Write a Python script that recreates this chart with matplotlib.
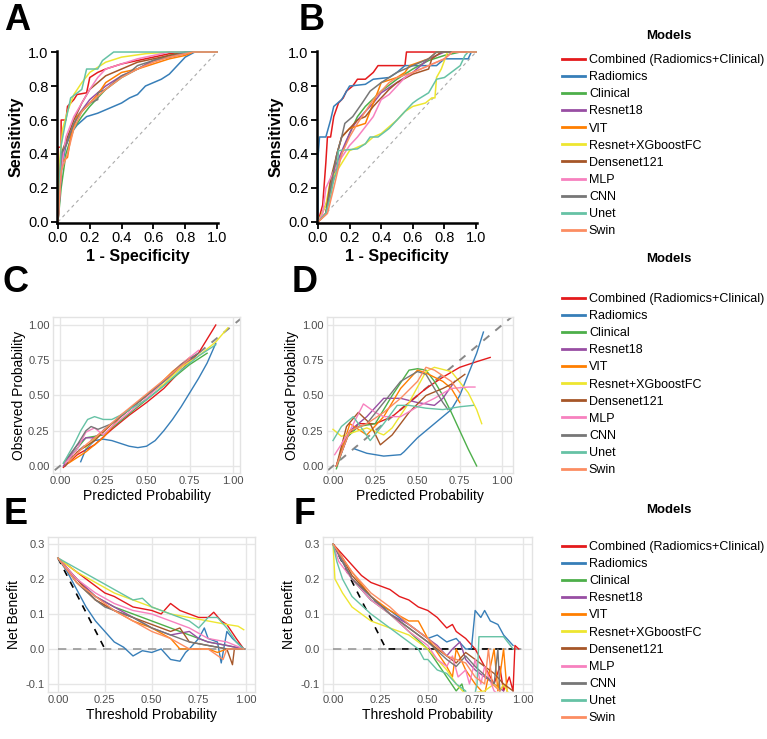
import numpy as np
import matplotlib
matplotlib.use("Agg")
import matplotlib.pyplot as plt

plt.rcParams['font.family'] = ['Liberation Sans', 'DejaVu Sans']

# models and colours
models = ["Combined (Radiomics+Clinical)", "Radiomics", "Clinical", "Resnet18", "VIT",
          "Resnet+XGboostFC", "Densenet121", "MLP", "CNN", "Unet", "Swin"]
colors = ["#E41A1C", "#377EB8", "#4DAF4A", "#984EA3", "#FF7F00",
          "#EEE630", "#A65628", "#F781BF", "#777777", "#66C2A5", "#FC8D62"]

# ---- A: ROC, training set (fpr, tpr) ----
roc_train = {
    "Combined (Radiomics+Clinical)": [(0, 0), (0, .44), (.02, .44), (.02, .6), (.05, .6), (.06, .68), (.1, .72), (.12, .75), (.18, .76), (.2, .85), (.25, .88), (.3, .9), (.4, .93), (.5, .95), (.6, .97), (.7, .99), (.8, 1), (1, 1)],
    "Radiomics": [(0, 0), (.02, .3), (.05, .45), (.08, .52), (.12, .57), (.18, .62), (.25, .64), (.3, .66), (.35, .68), (.4, .7), (.45, .73), (.5, .75), (.55, .8), (.6, .82), (.65, .84), (.7, .87), (.75, .92), (.8, .97), (.86, 1), (1, 1)],
    "Clinical": [(0, 0), (.02, .2), (.05, .4), (.1, .55), (.15, .62), (.2, .68), (.3, .78), (.4, .85), (.5, .9), (.6, .95), (.7, .98), (.8, 1), (1, 1)],
    "Resnet18": [(0, 0), (.03, .4), (.07, .5), (.12, .62), (.2, .72), (.3, .8), (.4, .86), (.5, .9), (.6, .95), (.7, .97), (.85, 1), (1, 1)],
    "VIT": [(0, 0), (.02, .35), (.06, .38), (.08, .5), (.12, .62), (.18, .68), (.25, .75), (.3, .82), (.35, .85), (.4, .88), (.5, .9), (.6, .93), (.7, .96), (.8, .98), (.85, 1), (1, 1)],
    "Resnet+XGboostFC": [(0, 0), (.01, .35), (.03, .55), (.06, .65), (.1, .75), (.15, .82), (.2, .88), (.3, .94), (.4, .97), (.55, .99), (.7, 1), (1, 1)],
    "Densenet121": [(0, 0), (.02, .4), (.06, .5), (.1, .6), (.15, .7), (.2, .78), (.25, .82), (.3, .86), (.4, .9), (.5, .94), (.6, .96), (.7, .98), (.8, 1), (1, 1)],
    "MLP": [(0, 0), (.02, .3), (.05, .5), (.1, .62), (.15, .7), (.2, .78), (.25, .85), (.3, .9), (.4, .93), (.5, .96), (.6, .98), (.7, 1), (1, 1)],
    "CNN": [(0, 0), (.02, .4), (.05, .45), (.1, .58), (.15, .65), (.2, .7), (.25, .72), (.25, .76), (.3, .78), (.35, .82), (.4, .86), (.45, .88), (.5, .92), (.6, .95), (.7, .97), (.8, 1), (1, 1)],
    "Unet": [(0, 0), (.02, .45), (.05, .6), (.08, .73), (.15, .78), (.18, .9), (.25, .9), (.28, .95), (.35, 1), (1, 1)],
    "Swin": [(0, 0), (.02, .3), (.06, .4), (.1, .55), (.15, .65), (.2, .7), (.3, .78), (.4, .85), (.5, .9), (.6, .94), (.7, .97), (.8, .99), (.85, 1), (1, 1)],
}

# ---- B: ROC, test set ----
roc_test = {
    "Combined (Radiomics+Clinical)": [(0, 0), (.03, .1), (.05, .35), (.06, .5), (.08, .5), (.1, .62), (.13, .7), (.16, .73), (.18, .77), (.22, .8), (.25, .84), (.3, .84), (.35, .88), (.38, .92), (.55, .92), (.56, 1), (1, 1)],
    "Radiomics": [(0, 0), (0, .38), (.01, .5), (.05, .5), (.08, .6), (.1, .68), (.15, .72), (.2, .8), (.3, .81), (.35, .84), (.45, .85), (.5, .88), (.55, .92), (.75, .92), (.8, .96), (.95, .96), (.97, 1), (1, 1)],
    "Clinical": [(0, 0), (.05, .1), (.1, .25), (.15, .4), (.2, .52), (.25, .62), (.3, .68), (.4, .77), (.5, .84), (.6, .9), (.7, .95), (.8, .98), (.9, 1), (1, 1)],
    "Resnet18": [(0, 0), (.05, .05), (.08, .2), (.12, .35), (.18, .48), (.22, .56), (.25, .6), (.3, .65), (.35, .7), (.4, .76), (.5, .82), (.6, .88), (.65, .92), (.7, .96), (.8, 1), (1, 1)],
    "VIT": [(0, 0), (.05, .05), (.08, .2), (.12, .4), (.15, .5), (.2, .55), (.3, .58), (.35, .7), (.38, .77), (.4, .82), (.5, .85), (.55, .88), (.58, .92), (.7, .96), (.75, 1), (1, 1)],
    "Resnet+XGboostFC": [(0, 0), (.05, .1), (.08, .25), (.12, .3), (.2, .42), (.3, .46), (.35, .5), (.4, .52), (.45, .56), (.5, .6), (.55, .65), (.6, .68), (.68, .7), (.72, .73), (.74, .73), (.75, .85), (.78, .9), (.8, .95), (.82, 1), (1, 1)],
    "Densenet121": [(0, 0), (.05, .05), (.08, .25), (.12, .4), (.15, .5), (.2, .55), (.25, .6), (.3, .62), (.35, .68), (.4, .73), (.45, .78), (.5, .82), (.6, .87), (.7, .9), (.72, .96), (.78, 1), (1, 1)],
    "MLP": [(0, 0), (.03, .05), (.05, .2), (.1, .3), (.15, .38), (.2, .45), (.25, .5), (.3, .56), (.35, .62), (.4, .72), (.45, .75), (.5, .8), (.55, .85), (.6, .88), (.7, .92), (.8, .96), (.85, 1), (1, 1)],
    "CNN": [(0, 0), (.05, .05), (.08, .2), (.12, .4), (.15, .5), (.17, .58), (.22, .62), (.28, .7), (.33, .77), (.4, .82), (.5, .88), (.6, .92), (.7, .96), (.75, 1), (1, 1)],
    "Unet": [(0, 0), (.05, .05), (.08, .15), (.1, .25), (.12, .3), (.13, .42), (.25, .43), (.3, .46), (.33, .5), (.38, .5), (.45, .55), (.5, .6), (.55, .65), (.6, .7), (.63, .72), (.7, .76), (.75, .84), (.8, .85), (.9, .92), (.93, .98), (.95, 1), (1, 1)],
    "Swin": [(0, 0), (.06, .05), (.1, .2), (.15, .4), (.2, .5), (.25, .58), (.3, .65), (.35, .72), (.4, .77), (.45, .82), (.5, .85), (.6, .88), (.7, .92), (.8, .96), (.85, 1), (1, 1)],
}

# ---- C: calibration, training set (predicted, observed) ----
cal_train = {
    "Combined (Radiomics+Clinical)": [(.02, -.01), (.1, .08), (.2, .15), (.3, .26), (.4, .36), (.5, .45), (.6, .55), (.7, .68), (.8, .8), (.9, 1.0)],
    "Radiomics": [(.12, .03), (.15, .12), (.2, .18), (.25, .19), (.3, .18), (.35, .16), (.4, .14), (.45, .13), (.5, .14), (.55, .18), (.6, .25), (.65, .33), (.7, .42), (.75, .52), (.8, .62), (.85, .73), (.9, .87)],
    "Clinical": [(.05, .05), (.15, .2), (.25, .22), (.35, .32), (.45, .42), (.55, .52), (.65, .62), (.75, .72), (.85, .8)],
    "Resnet18": [(.02, 0), (.1, .15), (.15, .2), (.2, .2), (.3, .3), (.4, .4), (.5, .5), (.6, .6), (.7, .7), (.78, .78)],
    "VIT": [(.05, .02), (.15, .1), (.25, .2), (.35, .35), (.45, .45), (.55, .55), (.65, .67), (.75, .77)],
    "Resnet+XGboostFC": [(.15, .13), (.3, .3), (.4, .4), (.5, .5), (.6, .58), (.7, .7), (.8, .78), (.9, .88), (.97, .98)],
    "Densenet121": [(.03, 0), (.1, .1), (.2, .18), (.3, .3), (.4, .4), (.5, .5), (.6, .6), (.7, .72), (.8, .8)],
    "MLP": [(.03, .02), (.1, .12), (.15, .24), (.2, .27), (.25, .22), (.3, .28), (.4, .38), (.5, .48), (.6, .6), (.7, .72), (.8, .82)],
    "CNN": [(.02, .02), (.1, .15), (.15, .25), (.18, .28), (.22, .26), (.3, .3), (.4, .4), (.5, .5), (.6, .6), (.7, .72), (.8, .8)],
    "Unet": [(.02, .02), (.08, .15), (.12, .25), (.16, .33), (.2, .35), (.25, .33), (.3, .33), (.35, .36), (.4, .4), (.5, .47), (.6, .57), (.7, .68), (.8, .78), (.85, .82), (.9, .86)],
    "Swin": [(.05, .03), (.15, .15), (.25, .25), (.35, .36), (.45, .46), (.55, .56), (.65, .66), (.75, .76)],
}

# ---- D: calibration, test set ----
cal_test = {
    "Combined (Radiomics+Clinical)": [(.02, 0), (.08, .2), (.15, .3), (.25, .3), (.35, .35), (.45, .45), (.55, .55), (.65, .63), (.75, .7), (.85, .74), (.93, .77)],
    "Radiomics": [(.13, .12), (.2, .09), (.3, .07), (.4, .08), (.42, .1), (.5, .2), (.6, .3), (.7, .4), (.75, .5), (.8, .65), (.85, .8), (.89, .95)],
    "Clinical": [(.02, -.02), (.08, .2), (.15, .28), (.25, .3), (.35, .5), (.45, .68), (.5, .69), (.55, .68), (.6, .6), (.65, .5), (.7, .38), (.75, .25), (.8, .12), (.85, 0)],
    "Resnet18": [(.02, 0), (.1, .25), (.2, .35), (.3, .48), (.4, .48), (.5, .45), (.6, .43), (.65, .48), (.72, .6)],
    "VIT": [(.02, 0), (.1, .3), (.2, .22), (.3, .35), (.4, .55), (.5, .68), (.55, .66), (.65, .6), (.7, .55), (.75, .45)],
    "Resnet+XGboostFC": [(0, .26), (.05, .21), (.1, .23), (.2, .27), (.3, .22), (.35, .27), (.45, .45), (.55, .67), (.6, .7), (.7, .67), (.8, .52), (.85, .4), (.88, .3)],
    "Densenet121": [(.02, 0), (.08, .28), (.15, .38), (.22, .3), (.28, .15), (.35, .22), (.45, .38), (.55, .5), (.65, .55), (.7, .58), (.78, .65)],
    "MLP": [(.01, .08), (.1, .25), (.18, .44), (.25, .38), (.3, .35), (.4, .35), (.5, .42), (.6, .48), (.7, .55), (.8, .56), (.84, .56)],
    "CNN": [(.02, 0), (.1, .25), (.2, .3), (.3, .45), (.4, .6), (.5, .67), (.55, .65), (.6, .55), (.65, .45), (.68, .4)],
    "Unet": [(0, .18), (.05, .28), (.12, .35), (.18, .25), (.22, .18), (.3, .3), (.38, .43), (.45, .43), (.55, .41), (.65, .4), (.75, .42), (.83, .43)],
    "Swin": [(.02, 0), (.1, .25), (.2, .3), (.3, .38), (.4, .48), (.5, .6), (.55, .7), (.6, .68), (.7, .6), (.75, .52)],
}

# ---- E: decision curves, training set (threshold, net benefit) ----
dca_train = {
    "Combined (Radiomics+Clinical)": [(0, .26), (.1, .22), (.2, .18), (.25, .16), (.3, .15), (.4, .12), (.5, .11), (.55, .1), (.6, .13), (.65, .11), (.7, .1), (.75, .09), (.8, .09), (.83, .105), (.87, .08), (.9, .07), (.95, .03), (.99, 0)],
    "Radiomics": [(0, .26), (.05, .22), (.1, .17), (.15, .12), (.2, .08), (.25, .05), (.3, .02), (.35, .005), (.4, -.02), (.45, -.005), (.5, -.01), (.55, 0), (.6, -.03), (.65, -.035), (.68, -.01), (.7, 0), (.75, .03), (.78, .06), (.8, .03), (.85, .02), (.87, -.04), (.9, .05), (.93, .03), (.97, .01), (.99, 0)],
    "Clinical": [(0, .26), (.1, .2), (.2, .15), (.3, .12), (.4, .1), (.5, .08), (.6, .06), (.7, .04), (.8, .02), (.9, .01), (.99, 0)],
    "Resnet18": [(0, .26), (.1, .2), (.2, .15), (.3, .12), (.4, .09), (.5, .06), (.6, .04), (.7, .05), (.75, .03), (.8, .02), (.9, .01), (.99, 0)],
    "VIT": [(0, .26), (.1, .19), (.2, .14), (.3, .11), (.4, .08), (.5, .06), (.6, .03), (.65, 0), (.7, 0), (.8, 0), (.85, -.01), (.9, 0), (.99, 0)],
    "Resnet+XGboostFC": [(0, .26), (.1, .22), (.2, .19), (.3, .16), (.4, .14), (.5, .12), (.6, .1), (.7, .09), (.8, .08), (.9, .07), (.96, .065), (.99, .055)],
    "Densenet121": [(0, .26), (.1, .2), (.2, .14), (.3, .11), (.4, .09), (.5, .07), (.6, .05), (.65, .06), (.7, .02), (.8, .01), (.9, 0), (.93, -.045), (.94, 0), (.99, 0)],
    "MLP": [(0, .26), (.1, .2), (.2, .16), (.3, .13), (.4, .11), (.5, .1), (.6, .08), (.7, .06), (.8, .03), (.9, .02), (.99, 0)],
    "CNN": [(0, .26), (.1, .19), (.2, .14), (.25, .12), (.3, .11), (.4, .09), (.5, .06), (.6, .04), (.7, .02), (.8, .01), (.9, 0), (.99, 0)],
    "Unet": [(0, .26), (.1, .23), (.2, .2), (.3, .17), (.4, .14), (.45, .145), (.5, .12), (.6, .1), (.7, .08), (.75, .06), (.8, .09), (.85, .09), (.9, .06), (.95, .02), (.99, 0)],
    "Swin": [(0, .26), (.1, .19), (.2, .15), (.3, .11), (.4, .08), (.5, .05), (.6, .03), (.7, 0), (.8, 0), (.88, -.03), (.9, 0), (.99, 0)],
}
treat_all_train = [(0, .26), (.25, 0)]

# ---- F: decision curves, test set ----
dca_test = {
    "Combined (Radiomics+Clinical)": [(0, .3), (.05, .27), (.1, .24), (.15, .21), (.2, .19), (.25, .18), (.3, .17), (.35, .15), (.4, .14), (.45, .12), (.5, .11), (.55, .09), (.6, .06), (.63, .07), (.65, .05), (.7, .03), (.75, 0), (.8, -.05), (.85, -.1), (.88, -.05), (.9, -.12), (.93, -.08), (.95, -.12), (.96, .01), (.98, 0)],
    "Radiomics": [(0, .3), (.05, .25), (.1, .2), (.15, .17), (.2, .14), (.3, .11), (.4, .07), (.5, .03), (.55, .04), (.6, .02), (.65, .03), (.7, 0), (.73, 0), (.75, .11), (.78, .09), (.8, .11), (.83, .08), (.87, .07), (.9, .04), (.95, .01)],
    "Clinical": [(0, .3), (.05, .25), (.1, .2), (.2, .14), (.3, .1), (.4, .05), (.5, 0), (.55, -.04), (.6, -.08), (.65, -.12), (.68, -.1), (.7, -.14)],
    "Resnet18": [(0, .3), (.05, .25), (.1, .2), (.2, .15), (.3, .1), (.4, .07), (.5, .03), (.55, .01), (.6, -.02), (.63, 0), (.67, .02), (.7, -.03), (.75, -.06), (.8, -.08), (.85, -.1), (.9, -.12)],
    "VIT": [(0, .3), (.05, .26), (.1, .22), (.2, .15), (.3, .11), (.4, .08), (.45, .08), (.5, .03), (.55, -.01), (.6, -.05), (.63, -.08), (.65, 0), (.7, -.06), (.75, -.1), (.8, -.13), (.85, 0), (.87, -.12), (.9, 0), (.92, -.13)],
    "Resnet+XGboostFC": [(0, .3), (.01, .2), (.05, .16), (.1, .12), (.15, .1), (.2, .08), (.3, .06), (.4, .04), (.5, 0), (.55, -.03), (.6, -.06), (.65, -.1), (.7, -.13), (.8, -.12), (.85, -.1), (.88, -.12), (.9, -.1), (.93, -.13)],
    "Densenet121": [(0, .3), (.05, .26), (.1, .21), (.2, .15), (.3, .1), (.4, .06), (.5, .02), (.55, 0), (.6, -.02), (.65, -.04), (.7, -.01), (.75, -.03), (.8, -.05), (.85, -.07), (.9, -.1), (.95, -.12)],
    "MLP": [(0, .3), (.03, .25), (.1, .2), (.2, .14), (.3, .1), (.4, .05), (.5, .01), (.55, -.03), (.6, -.05), (.63, -.02), (.66, -.08), (.7, -.06), (.72, -.1), (.75, -.03), (.78, -.1), (.8, -.05), (.85, -.12), (.9, -.14)],
    "CNN": [(0, .3), (.05, .25), (.1, .2), (.2, .15), (.3, .1), (.4, .06), (.5, .02), (.6, -.03), (.65, -.05), (.7, -.02), (.75, -.05), (.85, -.1), (.87, 0), (.88, -.12)],
    "Unet": [(0, .3), (.02, .25), (.05, .2), (.1, .15), (.2, .1), (.3, .06), (.4, .02), (.45, 0), (.48, -.03), (.5, -.03), (.55, -.06), (.6, -.07), (.65, -.1), (.7, -.12), (.72, -.2), (.76, -.1), (.77, .035), (.9, .035), (.95, 0)],
    "Swin": [(0, .3), (.05, .26), (.1, .22), (.2, .16), (.3, .12), (.4, .07), (.5, .03), (.6, -.02), (.7, -.04), (.75, -.08), (.8, -.1), (.82, 0), (.84, -.1), (.88, -.12)],
}
treat_all_test = [(0, .3), (.28, 0), (.95, 0)]

W, H = 767, 739
fig = plt.figure(figsize=(W / 100, H / 100), dpi=100)


def px_axes(l, t, r, b):
    return fig.add_axes([l / W, 1 - b / H, (r - l) / W, (b - t) / H])


def draw(ax, data, lw=1.0):
    for m, c in zip(models, colors):
        pts = np.array(data[m])
        ax.plot(pts[:, 0], pts[:, 1], color=c, lw=lw, label=m)


def roc_panel(ax, data, letter, lx):
    ax.plot([0, 1], [0, 1], color='#aaaaaa', lw=0.8, ls=(0, (3, 3)))
    draw(ax, data, lw=1.1)
    ax.set_xlim(-0.006, 1.006)
    ax.set_ylim(-0.006, 1.006)
    ticks = [0, .2, .4, .6, .8, 1.0]
    ax.set_xticks(ticks)
    ax.set_yticks(ticks)
    ax.set_xticklabels(['%.1f' % t for t in ticks])
    ax.set_yticklabels(['%.1f' % t for t in ticks])
    for s in ['top', 'right']:
        ax.spines[s].set_visible(False)
    for s in ['left', 'bottom']:
        ax.spines[s].set_linewidth(1.8)
    ax.tick_params(labelsize=10.5, length=4, width=1.3, pad=2)
    ax.set_xlabel('1 - Specificity', fontsize=11.5, fontweight='bold', labelpad=3)
    ax.set_ylabel('Sensitivity', fontsize=11.5, fontweight='bold', labelpad=3)
    fig.text(lx / W, 1 - 21 / H, letter, fontsize=26, fontweight='bold', va='center')


def gg_panel(ax, letter, lx, ly, label_off):
    ax.grid(True, color='#e6e6e6', lw=1.0)
    ax.set_axisbelow(True)
    for s in ax.spines.values():
        s.set_color('#e3e3e3')
        s.set_linewidth(1.0)
    ax.tick_params(length=0, labelsize=8, labelcolor='#4d4d4d', pad=2.5)
    # place the y title by its right edge, in pixels left of the panel
    w = ax.get_position().width * W
    ax.yaxis.set_label_coords(-label_off / w, 0.5)
    fig.text(lx / W, 1 - ly / H, letter, fontsize=26, fontweight='bold', va='center')


# A, B
axA = px_axes(57, 51, 218, 223)
roc_panel(axA, roc_train, 'A', 4)
axB = px_axes(317, 51, 477, 223)
roc_panel(axB, roc_test, 'B', 299)

# C, D
cal_ticks = [0, .25, .5, .75, 1.0]
for (l, r, xl, xr), data, letter, lx, off in [((53, 240, -0.040, 1.040), cal_train, 'C', 3, 27),
                                               ((327, 513, -0.0355, 1.065), cal_test, 'D', 292, 28)]:
    ax = px_axes(l, 317, r, 473)
    ax.plot([-0.1, 1.1], [-0.1, 1.1], color='#888888', lw=1.4, ls=(0, (4, 4)))
    draw(ax, data, lw=1.0)
    ax.set_xlim(xl, xr)
    ax.set_ylim(-0.05, 1.057)
    ax.set_xticks(cal_ticks)
    ax.set_yticks(cal_ticks)
    ax.set_xticklabels(['%.2f' % t for t in cal_ticks])
    ax.set_yticklabels(['%.2f' % t for t in cal_ticks])
    ax.set_xlabel('Predicted Probability', fontsize=10, labelpad=2)
    ax.set_ylabel('Observed Probability', fontsize=10)
    gg_panel(ax, letter, lx, 283, off)

# E, F
for (l, r), data, tall, letter, lx in [((48, 255), dca_train, treat_all_train, 'E', 4),
                                       ((323, 532), dca_test, treat_all_test, 'F', 294)]:
    ax = px_axes(l, 537, r, 692)
    ax.plot([0, 1], [0, 0], color='#999999', lw=1.2, ls=(0, (5, 4)))
    ta = np.array(tall)
    ax.plot(ta[:, 0], ta[:, 1], color='black', lw=1.2, ls=(0, (4, 4)))
    draw(ax, data, lw=1.0)
    ax.set_xlim(-0.053, 1.05)
    ax.set_ylim(-0.123, 0.32)
    ax.set_xticks(cal_ticks)
    ax.set_xticklabels(['%.2f' % t for t in cal_ticks])
    ax.set_yticks([-.1, 0, .1, .2, .3])
    ax.set_yticklabels(['-0.1', '0.0', '0.1', '0.2', '0.3'])
    ax.set_xlabel('Threshold Probability', fontsize=10, labelpad=2)
    ax.set_ylabel('Net Benefit', fontsize=10)
    gg_panel(ax, letter, lx, 515, 27)

# legends on the right
handles, labels = axA.get_legend_handles_labels()
for title_y, top_y in [(36, 54), (259, 293), (510, 541)]:
    fig.text(669 / W, 1 - title_y / H, 'Models', fontsize=9.5, fontweight='bold',
             ha='center', va='center')
    leg = fig.legend(handles, labels, loc='upper left', bbox_to_anchor=(562 / W, 1 - top_y / H),
                     frameon=False, fontsize=9, handlelength=1.8, handletextpad=0.35,
                     labelspacing=0.41, borderpad=0, borderaxespad=0)
    for ln in leg.get_lines():
        ln.set_linewidth(2.0)

fig.savefig('out.png', dpi=100)
